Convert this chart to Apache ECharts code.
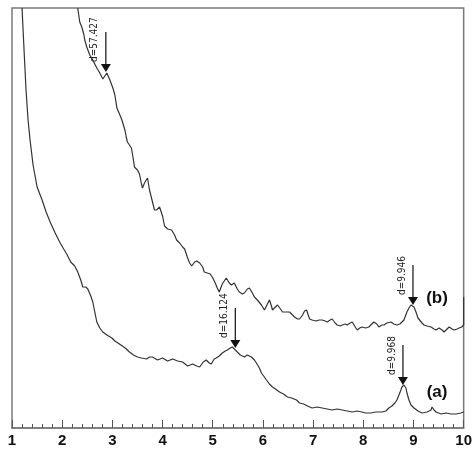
<!DOCTYPE html>
<html><head><meta charset="utf-8">
<script src="https://cdn.jsdelivr.net/npm/echarts@6/dist/echarts.min.js"></script>
<style>html,body{margin:0;padding:0;background:#fff}#c{width:475px;height:454px}</style>
</head><body><div id="c"></div>
<script>
// Curve (a)
const xA = [1.20,1.24,1.28,1.32,1.36,1.42,1.50,1.60,1.68,1.76,1.86,1.96,2.03,2.09,2.17,2.25,2.31,2.37,2.41,2.47,2.51,2.57,2.61,2.65,2.69,2.75,2.81,2.89,2.99,3.05,3.11,3.20,3.28,3.34,3.42,3.50,3.58,3.68,3.74,3.80,3.90,4.00,4.10,4.20,4.30,4.40,4.50,4.60,4.68,4.74,4.81,4.87,4.93,4.97,5.03,5.07,5.13,5.19,5.25,5.29,5.35,5.39,5.45,5.49,5.55,5.63,5.69,5.77,5.83,5.87,5.93,5.97,6.03,6.07,6.13,6.19,6.25,6.33,6.41,6.49,6.57,6.67,6.73,6.81,6.89,6.98,7.08,7.18,7.28,7.38,7.48,7.58,7.68,7.78,7.88,7.97,8.05,8.15,8.25,8.37,8.45,8.51,8.57,8.63,8.67,8.71,8.75,8.77,8.81,8.85,8.87,8.91,8.95,9.01,9.09,9.17,9.27,9.35,9.37,9.41,9.45,9.55,9.65,9.75,9.85,9.94,10.00];
const yA = [420,378,338,308,288,263,241,228,216,206,195,185,179,174,166,162,156,148,141,141,139,132,126,116,106,100,96,93,90,87,85,82,79,76,73,71,70,69,71,71,68,70,67,69,67,66,62,64,62,61,66,68,65,64,69,70,72,75,77,78,80,81,78,76,73,71,73,71,68,65,60,55,51,48,44,41,39,36,34,31,30,28,25,24,22,20,21,20,19,18,19,18,17,16,17,16,15,15,16,16,17,20,22,25,28,33,38,41,43,40,35,28,23,20,17,15,16,18,21,18,16,14,15,14,14,15,16];
// Curve (b)
const xB = [2.31,2.35,2.39,2.43,2.45,2.49,2.55,2.61,2.65,2.69,2.75,2.81,2.85,2.89,2.95,3.01,3.05,3.09,3.15,3.19,3.25,3.28,3.30,3.34,3.38,3.42,3.44,3.50,3.54,3.58,3.60,3.64,3.70,3.74,3.80,3.84,3.88,3.94,4.00,4.04,4.10,4.18,4.24,4.28,4.34,4.40,4.44,4.50,4.54,4.58,4.64,4.68,4.74,4.80,4.83,4.89,4.95,4.99,5.05,5.09,5.13,5.19,5.27,5.33,5.37,5.43,5.49,5.53,5.59,5.63,5.69,5.73,5.79,5.83,5.89,5.97,6.03,6.09,6.13,6.17,6.19,6.25,6.29,6.35,6.39,6.47,6.53,6.59,6.63,6.69,6.73,6.79,6.83,6.87,6.91,6.93,6.98,7.06,7.12,7.18,7.24,7.28,7.34,7.38,7.44,7.48,7.54,7.58,7.64,7.68,7.74,7.78,7.84,7.88,7.93,7.97,8.05,8.11,8.17,8.21,8.27,8.31,8.37,8.41,8.47,8.55,8.61,8.67,8.73,8.81,8.87,8.91,8.95,8.97,9.01,9.05,9.09,9.11,9.17,9.21,9.27,9.35,9.41,9.45,9.51,9.57,9.61,9.67,9.71,9.77,9.81,9.87,9.91,9.96,10.00,10.00];
const yB = [420,406,401,394,388,381,373,368,364,360,355,349,352,355,348,340,333,320,313,308,298,290,286,283,280,268,261,258,254,244,240,245,250,238,226,218,218,221,212,202,199,198,193,188,185,181,179,170,165,162,166,167,165,161,156,155,154,151,145,140,136,144,150,145,143,145,139,136,134,135,139,140,135,131,128,123,118,124,128,122,118,121,123,119,116,116,116,113,111,109,109,113,117,118,112,109,108,107,108,108,107,106,108,109,105,103,102,103,104,103,105,106,101,98,100,101,100,101,104,106,104,101,103,103,105,106,104,103,104,108,116,120,123,125,121,116,110,108,105,103,102,101,99,98,100,98,96,99,101,99,98,99,100,101,103,131];
// Peak annotations
const peakX = [2.87, 5.45, 8.99, 8.79];
const peakY = [356, 80, 123, 43];
const peakLabels = ['d=57.427', 'd=16.124', 'd=9.946', 'd=9.968'];
// Curve labels
const curveNames = ['(a)', '(b)'];
const curveLabelX = [9.47, 9.47];
const curveLabelY = [36, 130];
const xTicks = [1,2,3,4,5,6,7,8,9,10];

const zip = (xs, ys) => xs.map((x, i) => [x, ys[i]]);
const chart = echarts.init(document.getElementById('c'));
chart.setOption({
  animation: false,
  grid: {left: 12, right: 10, top: 8, bottom: 26, show: true, borderColor: '#7a7a7a', borderWidth: 1.5},
  xAxis: {
    type: 'value', min: 1, max: 10, interval: 1,
    axisLine: {show: true, lineStyle: {color: '#7a7a7a', width: 1.5}},
    axisTick: {show: true, inside: true, length: 8, lineStyle: {color: '#555'}},
    minorTick: {show: true, splitNumber: 5, length: 4, lineStyle: {color: '#555'}},
    splitLine: {show: false},
    axisLabel: {margin: 5, color: '#111', fontFamily: 'Liberation Sans, Arial, sans-serif', fontWeight: 'bold', fontSize: 15,
      formatter: v => xTicks.includes(v) ? String(v) : ''}
  },
  yAxis: {type: 'value', min: 0, max: 420, show: false, splitLine: {show: false}},
  series: [
    {type: 'line', data: zip(xA, yA), showSymbol: false, clip: true, lineStyle: {color: '#333', width: 1.2}},
    {type: 'line', data: zip(xB, yB), showSymbol: false, clip: true, lineStyle: {color: '#333', width: 1.2}}
  ]
});

const els = [];
peakX.forEach((x, i) => {
  const [px, py] = chart.convertToPixel({gridIndex: 0}, [x, peakY[i]]);
  const len = 40;
  els.push({type: 'line', shape: {x1: px, y1: py - len, x2: px, y2: py - 6}, style: {stroke: '#222', lineWidth: 1.3}});
  els.push({type: 'polygon', shape: {points: [[px - 5, py - 8], [px + 5, py - 8], [px, py]]}, style: {fill: '#111'}});
  els.push({type: 'text', x: px - 11, y: py - 10, rotation: Math.PI / 2,
    style: {text: peakLabels[i], fill: '#222', font: '10px "Liberation Sans Narrow", "DejaVu Sans Condensed", sans-serif', align: 'left', verticalAlign: 'middle'}});
});
curveNames.forEach((n, i) => {
  const [px, py] = chart.convertToPixel({gridIndex: 0}, [curveLabelX[i], curveLabelY[i]]);
  els.push({type: 'text', x: px, y: py, style: {text: n, fill: '#111', font: 'bold 17px "Liberation Sans", Arial, sans-serif', align: 'center', verticalAlign: 'middle'}});
});
chart.setOption({graphic: {elements: els}});
</script>
</body></html>
